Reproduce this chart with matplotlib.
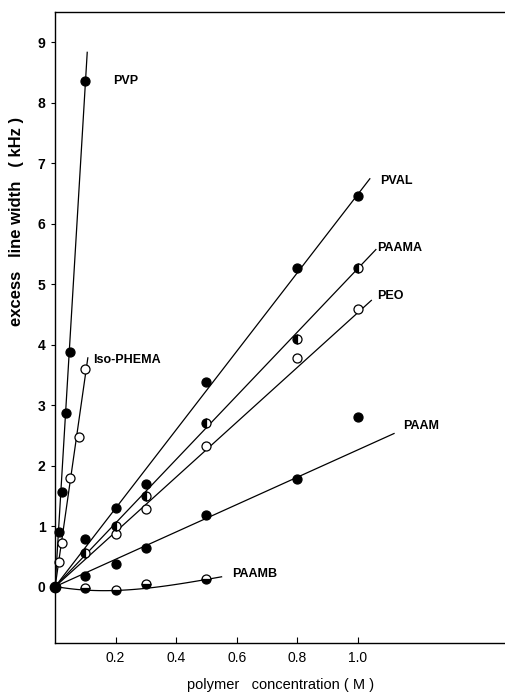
import numpy as np
import matplotlib
matplotlib.use('Agg')
import matplotlib.pyplot as plt

plt.rcParams['font.family'] = ['Liberation Sans', 'DejaVu Sans']

# data (x = polymer concentration M, y = excess line width kHz)
pvp_x = [0.0, 0.013, 0.022, 0.035, 0.048, 0.10]
pvp_y = [0.0, 0.91, 1.57, 2.87, 3.88, 8.35]
phema_x = [0.012, 0.022, 0.05, 0.08, 0.10]
phema_y = [0.40, 0.72, 1.80, 2.47, 3.60]
pval_x = [0.1, 0.2, 0.3, 0.5, 0.8, 1.0]
pval_y = [0.79, 1.30, 1.70, 3.38, 5.27, 6.45]
paama_x = [0.1, 0.2, 0.3, 0.5, 0.8, 1.0]
paama_y = [0.55, 1.00, 1.50, 2.70, 4.10, 5.27]
peo_x = [0.2, 0.3, 0.5, 0.8, 1.0]
peo_y = [0.87, 1.28, 2.32, 3.78, 4.58]
paam_x = [0.1, 0.2, 0.3, 0.5, 0.8, 1.0]
paam_y = [0.18, 0.38, 0.63, 1.19, 1.78, 2.80]
paamb_x = [0.1, 0.2, 0.3, 0.5]
paamb_y = [-0.03, -0.06, 0.04, 0.13]

# straight fit lines through origin: end point of each drawn line
line_names = ['PVP', 'Iso-PHEMA', 'PVAL', 'PAAMA', 'PEO', 'PAAM']
line_end_x = [0.106, 0.108, 1.04, 1.06, 1.045, 1.12]
line_end_y = [8.83, 3.78, 6.74, 5.57, 4.73, 2.53]
# curve for PAAMB, points along the drawn curve
curve_x = [0.0, 0.1, 0.2, 0.3, 0.45, 0.55]
curve_y = [0.0, -0.05, -0.07, -0.03, 0.08, 0.16]

label_pos = {'PVP': (0.19, 8.35), 'Iso-PHEMA': (0.125, 3.75), 'PVAL': (1.075, 6.7),
             'PAAMA': (1.065, 5.6), 'PEO': (1.065, 4.8), 'PAAM': (1.15, 2.65),
             'PAAMB': (0.585, 0.2)}

fig = plt.figure(figsize=(5.06, 6.92), dpi=100)
ax = fig.add_axes([0.109, 0.071, 0.891, 0.912])

lw = 0.9
for ex, ey in zip(line_end_x, line_end_y):
    ax.plot([0, ex], [0, ey], color='black', lw=lw)
cc = np.polyfit(curve_x, curve_y, 3)
xs = np.linspace(0, curve_x[-1], 100)
ax.plot(xs, np.polyval(cc, xs), color='black', lw=lw)

ms = 6.5
kw = dict(color='black', markeredgecolor='black', markeredgewidth=0.9, ls='none', marker='o', ms=ms, clip_on=False)
ax.plot(pvp_x, pvp_y, markerfacecolor='black', **kw)
ax.plot(phema_x, phema_y, markerfacecolor='white', **kw)
ax.plot(pval_x, pval_y, markerfacecolor='black', **kw)
ax.plot(peo_x, peo_y, markerfacecolor='white', **kw)
ax.plot(paama_x, paama_y, fillstyle='left', markerfacecolor='black', markerfacecoloralt='white', **kw)
ax.plot(paam_x, paam_y, markerfacecolor='black', **kw)
ax.plot(paamb_x, paamb_y, fillstyle='bottom', markerfacecolor='black', markerfacecoloralt='white', **kw)
ax.plot([0], [0], marker='o', color='black', ms=7.5, ls='none', clip_on=False, zorder=5)

for name, (tx, ty) in label_pos.items():
    ax.text(tx, ty, name, fontsize=9, fontweight='bold', va='center', ha='left')

ax.set_xlim(0, 1.49)
ax.set_ylim(-0.93, 9.5)
ax.spines['right'].set_visible(False)
for s in ['left', 'bottom', 'top']:
    ax.spines[s].set_linewidth(1.0)

ax.set_xticks([0.2, 0.4, 0.6, 0.8, 1.0])
ax.set_xticklabels(['0.2', '0.4', '0.6', '0.8', '1.0'], fontsize=10)
ax.set_yticks(range(0, 10))
ax.set_yticklabels([str(i) for i in range(0, 10)], fontsize=10, fontweight='bold')
ax.tick_params(axis='x', direction='in', length=4, width=0.8, pad=6)
ax.tick_params(axis='y', direction='out', length=3, width=0.8, pad=4)

ax.set_xlabel('polymer   concentration ( M )', fontsize=10.5, labelpad=9)
ax.set_ylabel('excess   line width   ( kHz )', fontsize=12, fontweight='bold')
ax.yaxis.set_label_coords(-0.07, 0.667)

fig.savefig('out.png', dpi=100)
